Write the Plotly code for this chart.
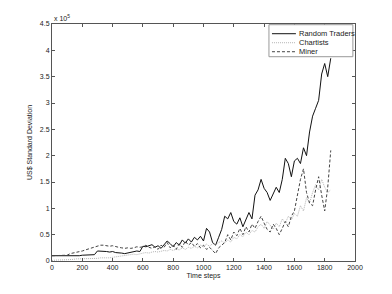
import plotly.graph_objects as go

time_steps = list(range(0, 1860, 20))

random_traders = [
    0.10, 0.10, 0.10, 0.10, 0.10, 0.09, 0.09, 0.10, 0.10, 0.10,
    0.11, 0.11, 0.11, 0.12, 0.12, 0.19, 0.19, 0.18, 0.18, 0.17,
    0.18, 0.16, 0.16, 0.15, 0.14, 0.15, 0.16, 0.17, 0.19, 0.18,
    0.28, 0.27, 0.29, 0.31, 0.26, 0.29, 0.24, 0.30, 0.38, 0.33,
    0.27, 0.35, 0.30, 0.40, 0.34, 0.42, 0.36, 0.45, 0.40, 0.47,
    0.38, 0.62, 0.55, 0.35, 0.30, 0.45, 0.60, 0.85, 0.80, 0.92,
    0.75, 0.70, 0.82, 0.65, 0.78, 0.92, 0.80, 1.25, 1.35, 1.55,
    1.38, 1.30, 1.15, 1.28, 1.40, 1.30, 1.55, 1.95, 1.85, 1.60,
    1.90, 1.95, 1.85, 2.15, 2.00, 2.45, 2.75, 2.90, 3.05, 3.55,
    3.75, 3.50, 3.85,
]

chartists = [
    0.01, 0.02, 0.02, 0.02, 0.02, 0.03, 0.03, 0.03, 0.04, 0.04,
    0.04, 0.05, 0.05, 0.05, 0.04, 0.05, 0.06, 0.06, 0.05, 0.06,
    0.07, 0.08, 0.08, 0.09, 0.10, 0.11, 0.12, 0.13, 0.12, 0.14,
    0.15, 0.16, 0.15, 0.17, 0.18, 0.17, 0.19, 0.20, 0.19, 0.22,
    0.20, 0.23, 0.21, 0.25, 0.22, 0.26, 0.24, 0.28, 0.25, 0.30,
    0.27, 0.32, 0.28, 0.33, 0.30, 0.35, 0.38, 0.34, 0.40, 0.36,
    0.45, 0.42, 0.50, 0.46, 0.55, 0.50, 0.58, 0.55, 0.65, 0.70,
    0.62, 0.75, 0.68, 0.60, 0.72, 0.65, 0.80, 0.72, 0.85, 0.78,
    0.90, 0.85, 1.05, 0.95, 1.20, 1.10, 1.30, 1.45, 1.35, 1.55,
    1.40, 1.30, 1.35,
]

miner = [
    0.10, 0.10, 0.10, 0.10, 0.10, 0.11, 0.14, 0.15, 0.16, 0.17,
    0.19, 0.21, 0.23, 0.25, 0.27, 0.29, 0.30, 0.30, 0.29, 0.28,
    0.29, 0.27, 0.26, 0.25, 0.24, 0.25, 0.24, 0.25, 0.27, 0.26,
    0.27, 0.30, 0.26, 0.24, 0.27, 0.22, 0.30, 0.26, 0.35, 0.25,
    0.30, 0.22, 0.33, 0.26, 0.38, 0.30, 0.35, 0.28, 0.33, 0.25,
    0.30, 0.22, 0.26, 0.20, 0.14, 0.25, 0.30, 0.35, 0.50, 0.40,
    0.55, 0.48, 0.62, 0.50, 0.65, 0.55, 0.70, 0.62, 0.75, 0.85,
    0.72, 0.60, 0.55, 0.70, 0.62, 0.50, 0.62, 0.75, 0.65, 0.85,
    0.95, 1.25, 1.55, 1.75, 1.30, 1.10, 1.05, 1.35, 1.60, 1.25,
    0.95, 1.40, 2.10,
]

series_names = ["Random Traders", "Chartists", "Miner"]
series_colors = ["#111111", "#b4b4b4", "#444444"]
series_dashes = ["solid", "1px,1px", "3px,2px"]

x_ticks = [0, 200, 400, 600, 800, 1000, 1200, 1400, 1600, 1800, 2000]
y_ticks = [0, 0.5, 1, 1.5, 2, 2.5, 3, 3.5, 4, 4.5]
y_tick_labels = ["0", "0.5", "1", "1.5", "2", "2.5", "3", "3.5", "4", "4.5"]

font = "Liberation Sans, Arial, sans-serif"

fig = go.Figure()
for name, vals, col, dash in zip(series_names, [random_traders, chartists, miner],
                                 series_colors, series_dashes):
    fig.add_trace(go.Scatter(x=time_steps, y=vals, mode="lines", name=name,
                             line=dict(color=col, width=1, dash=dash),
                             showlegend=False))

axis_common = dict(showgrid=False, zeroline=False, showline=True,
                   linecolor="#555555", linewidth=1, mirror="ticks",
                   ticks="inside", ticklen=3, tickcolor="#555555",
                   tickfont=dict(size=7, color="#222222", family=font))

# compact legend box (matlab style) in paper coordinates
shapes = [dict(type="rect", xref="paper", yref="paper", x0=0.716, x1=0.993,
               y0=0.862, y1=0.997, line=dict(color="#999999", width=1),
               fillcolor="white", layer="above")]
annotations = [dict(text="x 10<sup>5</sup>", x=0, y=1, xref="paper", yref="paper",
                    xanchor="left", yanchor="bottom", showarrow=False,
                    font=dict(size=7, family=font))]
row_y = [0.959, 0.921, 0.883]
for name, col, dash, yy in zip(series_names, series_colors, series_dashes, row_y):
    shapes.append(dict(type="line", xref="paper", yref="paper", x0=0.726, x1=0.805,
                       y0=yy, y1=yy, line=dict(color=col, width=1, dash=dash),
                       layer="above"))
    annotations.append(dict(text=name, x=0.810, y=yy, xref="paper", yref="paper",
                            xanchor="left", yanchor="middle", showarrow=False,
                            font=dict(size=7.5, family=font, color="#222222")))

# the page body adds an 8px offset, so margins are shifted to compensate
fig.update_layout(
    width=392, height=294,
    margin=dict(l=44, r=45, t=14, b=41),
    paper_bgcolor="white", plot_bgcolor="white",
    font=dict(family=font, size=7, color="#222222"),
    xaxis=dict(range=[0, 2000], tickvals=x_ticks,
               title=dict(text="Time steps", font=dict(size=7), standoff=2),
               **axis_common),
    yaxis=dict(range=[0, 4.5], tickvals=y_ticks, ticktext=y_tick_labels,
               title=dict(text="US$ Standard Deviation", font=dict(size=7), standoff=6),
               **axis_common),
    showlegend=False,
    shapes=shapes,
    annotations=annotations,
)

fig.write_html("out.html")
